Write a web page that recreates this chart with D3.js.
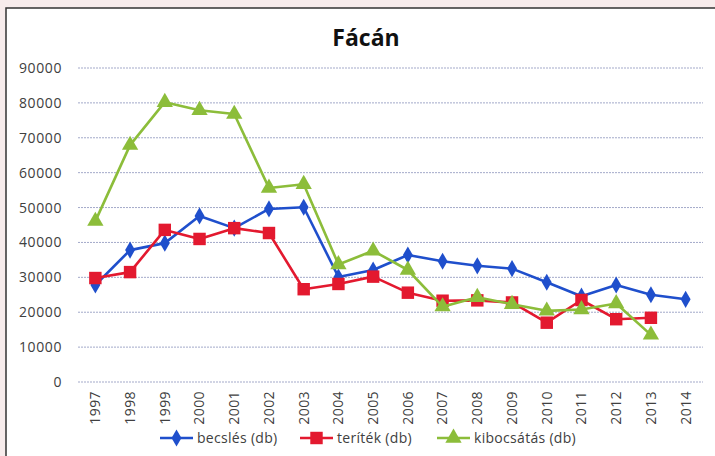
<html>
  <head>
    <style>
      body { margin: 0; background: #f7ecec; }
      text { font-family: "Open Sans", Lato, sans-serif; }
    </style>
  </head>
  <body>
    <script src="https://d3js.org/d3.v7.min.js"></script>
    <script>
    var years = ["1997","1998","1999","2000","2001","2002","2003","2004","2005","2006","2007","2008","2009","2010","2011","2012","2013","2014"];
    var becsles = [27800,37800,39800,47600,44100,49600,50100,30100,32100,36400,34600,33300,32500,28600,24600,27800,25000,23700];
    var teritek = [29800,31500,43600,41000,44100,42700,26600,28100,30200,25600,23300,23400,22800,17000,23500,18000,18400];
    var kibocsatas = [46100,67900,80200,77900,76800,55600,56700,33700,37600,32100,21600,24300,22300,20400,20800,22500,13500];
    var yTicks = [0,10000,20000,30000,40000,50000,60000,70000,80000,90000];
    var seriesNames = ["becslés (db)", "teríték (db)", "kibocsátás (db)"];

    var width = 715, height = 456;
    var svg = d3.select("body").append("svg")
        .attr("width", width).attr("height", height);

    // chart frame
    svg.append("rect")
        .attr("x", 6).attr("y", 8)
        .attr("width", 720).attr("height", 460)
        .attr("fill", "white")
        .attr("stroke", "#333").attr("stroke-width", 1.5);

    svg.append("text")
        .attr("x", 366).attr("y", 46)
        .attr("text-anchor", "middle")
        .attr("font-size", 23).attr("font-weight", "bold")
        .attr("fill", "#111")
        .text("Fácán");

    var x = d3.scaleBand().domain(years).range([78, 703]);
    var y = d3.scaleLinear().domain([0, 90000]).range([382, 68]);

    // gridlines
    svg.append("g").selectAll("line")
        .data(yTicks).enter().append("line")
        .attr("x1", 78).attr("x2", 703)
        .attr("y1", function(d){ return y(d); })
        .attr("y2", function(d){ return y(d); })
        .attr("stroke", "#a3a9c9").attr("stroke-width", 1)
        .attr("stroke-dasharray", "2,1");

    var yAxis = svg.append("g")
        .attr("transform", "translate(78,0)")
        .call(d3.axisLeft(y).tickValues(yTicks).tickFormat(d3.format("d")).tickSize(0).tickPadding(16));
    yAxis.select(".domain").remove();
    yAxis.selectAll("text").attr("font-size", 14).attr("fill", "#404040")
        .style("font-family", "'Open Sans', Lato, sans-serif")
        .style("letter-spacing", "0.6px");

    var xAxis = svg.append("g")
        .attr("transform", "translate(0,382)")
        .call(d3.axisBottom(x).tickSize(0).tickPadding(0));
    xAxis.select(".domain").remove();
    xAxis.selectAll("text")
        .attr("font-size", 14).attr("fill", "#404040")
        .style("font-family", "'Open Sans', Lato, sans-serif")
        .style("letter-spacing", "0.4px")
        .attr("transform", "rotate(-90)")
        .attr("text-anchor", "end")
        .attr("x", -9).attr("y", 0).attr("dy", "0.35em");

    var series = [
      { name: seriesNames[0], values: becsles, color: "#1f4fcc", shape: d3.symbolDiamond, size: 85 },
      { name: seriesNames[1], values: teritek, color: "#e3192f", shape: d3.symbolSquare, size: 155 },
      { name: seriesNames[2], values: kibocsatas, color: "#8cbd3a", shape: d3.symbolTriangle, size: 115 }
    ];

    var line = d3.line()
        .x(function(d, i){ return x(years[i]) + x.bandwidth() / 2; })
        .y(function(d){ return y(d); });

    series.forEach(function(s) {
      svg.append("path")
          .attr("d", line(s.values))
          .attr("fill", "none")
          .attr("stroke", s.color)
          .attr("stroke-width", 2.6)
          .attr("stroke-linejoin", "round");
      svg.append("g").selectAll("path")
          .data(s.values).enter().append("path")
          .attr("d", d3.symbol().type(s.shape).size(s.size))
          .attr("transform", function(d, i){
            return "translate(" + (x(years[i]) + x.bandwidth() / 2) + "," + y(d) + ")";
          })
          .attr("fill", s.color);
    });

    // legend
    var legendX = [160, 300, 437];
    var leg = svg.append("g").selectAll("g")
        .data(series).enter().append("g")
        .attr("transform", function(d, i){ return "translate(" + legendX[i] + ",438)"; });
    leg.append("line")
        .attr("x1", 0).attr("x2", 33)
        .attr("stroke", function(d){ return d.color; })
        .attr("stroke-width", 2.6);
    leg.append("path")
        .attr("d", function(d){ return d3.symbol().type(d.shape).size(d.size)(); })
        .attr("transform", "translate(16.5,0)")
        .attr("fill", function(d){ return d.color; });
    leg.append("text")
        .attr("x", 37).attr("dy", "0.35em")
        .attr("font-size", 14).attr("fill", "#404040")
        .style("letter-spacing", "0.3px")
        .text(function(d){ return d.name; });
    </script>
  </body>
</html>
